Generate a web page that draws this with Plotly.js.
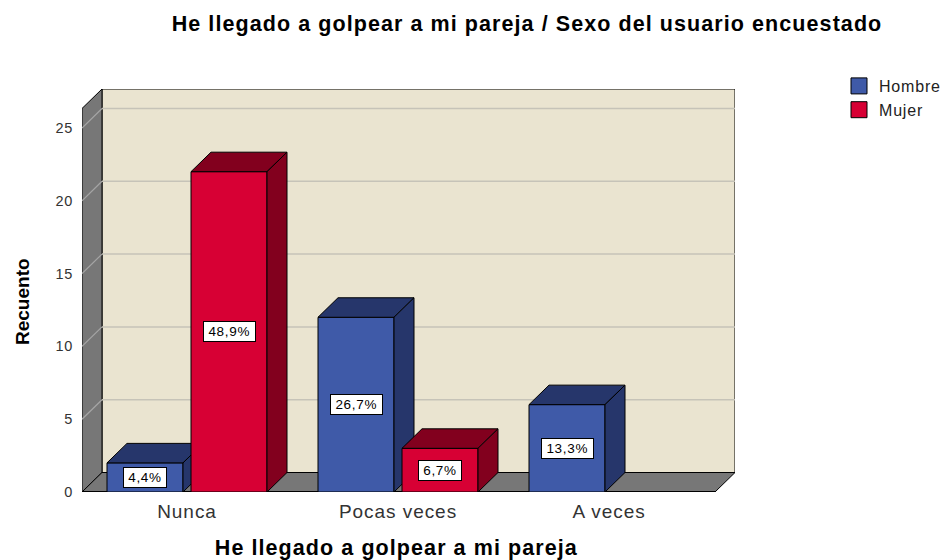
<!DOCTYPE html>
<html><head><meta charset="utf-8">
<script src="https://cdn.plot.ly/plotly-3.0.1.min.js"></script>
<style>
html,body{margin:0;padding:0;background:#fff;}
#chart{width:945px;height:560px;}
.main-svg text{letter-spacing:0.05em;}
.main-svg g.annotation[data-index="6"] text{letter-spacing:0;}
</style></head><body><div id="chart"></div>
<script>
// ---------- data ----------
const categories = ['Nunca', 'Pocas veces', 'A veces'];
const seriesNames = ['Hombre', 'Mujer'];
const hombre = [2, 12, 6];
const mujer = [22, 3, 0];
const yTickVals = [0, 5, 10, 15, 20, 25];
const yTickText = ['0', '5', '10', '15', '20', '25'];
const chartTitle = 'He llegado a golpear a mi pareja / Sexo del usuario encuestado';
const xTitle = 'He llegado a golpear a mi pareja';
const yTitle = 'Recuento';

// ---------- geometry / style ----------
const W = 945, H = 560;
const plotL = 82, plotR = 735, plotT = 89, plotB = 492;
const pxPerCat = 211, pxPerUnit = 14.56, firstCatPx = 187;
const depthPx = 20, depthPy = 19.5;
const barWpx = 76, gapPx = 8;
const FONT = 'Liberation Sans, Arial, sans-serif';
const frontCol = ['#3F5AA8', '#D70034'];
const darkCol = ['#26366B', '#82001E'];
const wallCol = '#777777';
const backCol = '#EAE4D0';

const xL = (plotL - firstCatPx) / pxPerCat;
const xR = xL + (plotR - plotL) / pxPerCat;
const yTop = (plotB - plotT) / pxPerUnit;
const dx = depthPx / pxPerCat, dy = depthPy / pxPerUnit;
const bw = barWpx / pxPerCat, gp = gapPx / pxPerCat;
const topF = yTop - dy;

const series = [hombre, mujer];
const total = hombre.reduce((a, b) => a + b, 0) + mujer.reduce((a, b) => a + b, 0);

const traces = [];
// legend entries
seriesNames.forEach((n, s) => {
  traces.push({
    type: 'scatter', mode: 'markers', x: [null], y: [null], name: n, legendgroup: n,
    marker: {symbol: 'square', size: 16, color: frontCol[s], line: {color: '#000', width: 1}},
    hoverinfo: 'skip', cliponaxis: false
  });
});

const annotations = [];
categories.forEach((c, i) => {
  series.forEach((vals, s) => {
    const v = vals[i];
    if (!v) return;
    const x0 = s === 0 ? i - gp / 2 - bw : i + gp / 2;
    const x1 = x0 + bw;
    const common = {type: 'scatter', mode: 'lines', fill: 'toself', showlegend: false,
      legendgroup: seriesNames[s], hoverinfo: 'skip', line: {color: '#000', width: 1}};
    traces.push(Object.assign({}, common, {
      x: [x0, x1, x1, x0, x0], y: [0, 0, v, v, 0], fillcolor: frontCol[s]}));
    traces.push(Object.assign({}, common, {
      x: [x0, x1, x1 + dx, x0 + dx, x0], y: [v, v, v + dy, v + dy, v], fillcolor: darkCol[s]}));
    traces.push(Object.assign({}, common, {
      x: [x1, x1 + dx, x1 + dx, x1, x1], y: [0, dy, v + dy, v, 0], fillcolor: darkCol[s]}));
    const txt = (v / total * 100).toFixed(1).replace('.', ',') + '%';
    annotations.push({
      x: (x0 + x1) / 2, y: v / 2, xref: 'x', yref: 'y', text: txt, showarrow: false,
      font: {family: FONT, size: 13.5, color: '#000'}, bgcolor: '#fff', bordercolor: '#000',
      borderwidth: 1, borderpad: 2, width: txt.length * 8.5 + 4, height: 15
    });
  });
});

annotations.push({
  xref: 'paper', yref: 'paper', x: (397 - plotL) / (plotR - plotL), y: (plotB - 548) / (plotB - plotT),
  xanchor: 'center', yanchor: 'middle', text: xTitle, showarrow: false,
  font: {family: FONT, size: 21.5, weight: 'bold', color: '#000'}
});
annotations.push({
  xref: 'paper', yref: 'paper', x: (22 - plotL) / (plotR - plotL), y: (plotB - 302) / (plotB - plotT),
  xanchor: 'center', yanchor: 'middle', text: yTitle, showarrow: false, textangle: -90,
  font: {family: FONT, size: 19, weight: 'bold', color: '#000'}
});

const shapes = [];
shapes.push({type: 'rect', layer: 'below', xref: 'x', yref: 'y', x0: xL + dx, x1: xR, y0: dy, y1: yTop,
  fillcolor: backCol, line: {color: '#000', width: 1}});
shapes.push({type: 'path', layer: 'below', xref: 'x', yref: 'y',
  path: `M${xL},0 L${xL},${topF} L${xL + dx},${yTop} L${xL + dx},${dy} Z`,
  fillcolor: wallCol, line: {color: '#000', width: 1}});
shapes.push({type: 'path', layer: 'below', xref: 'x', yref: 'y',
  path: `M${xL},0 L${xR - dx},0 L${xR},${dy} L${xL + dx},${dy} Z`,
  fillcolor: wallCol, line: {color: '#000', width: 1}});
yTickVals.filter(v => v > 0).forEach(v => {
  shapes.push({type: 'line', layer: 'below', xref: 'x', yref: 'y', x0: xL + dx, x1: xR, y0: v + dy, y1: v + dy,
    line: {color: '#C6C3B8', width: 1.5}});
  shapes.push({type: 'line', layer: 'below', xref: 'x', yref: 'y', x0: xL, x1: xL + dx, y0: v, y1: v + dy,
    line: {color: '#A5A5A5', width: 1.2}});
});
shapes.push({type: 'line', layer: 'below', xref: 'x', yref: 'y', x0: xL, x1: xR - dx, y0: 0, y1: 0,
  line: {color: '#000', width: 2}});

const layout = {
  width: W, height: H,
  margin: {l: plotL, r: W - plotR, t: plotT, b: H - plotB, pad: 0},
  paper_bgcolor: '#fff', plot_bgcolor: '#fff',
  hovermode: false,
  title: {text: chartTitle, x: 527 / W, xanchor: 'center', y: 1 - 23 / H, yanchor: 'middle',
    yref: 'container', xref: 'container', font: {family: FONT, size: 21.5, weight: 'bold', color: '#000'}},
  xaxis: {range: [xL, xR], tickvals: categories.map((c, i) => i), ticktext: categories,
    showgrid: false, zeroline: false, showline: false, ticks: '', ticklabelstandoff: 6,
    tickfont: {family: FONT, size: 19, color: '#333'}, fixedrange: true},
  yaxis: {range: [0, yTop], tickvals: yTickVals, ticktext: yTickText,
    showgrid: false, zeroline: false, showline: false, ticks: '', ticklabelstandoff: 8,
    tickfont: {family: FONT, size: 14.5, color: '#333'}, fixedrange: true},
  showlegend: true,
  legend: {xref: 'container', yref: 'container', x: 839 / W, y: 1 - 69 / H, xanchor: 'left', yanchor: 'top',
    font: {family: FONT, size: 16, color: '#222'}, bgcolor: 'rgba(0,0,0,0)', itemwidth: 30,
    tracegroupgap: 0, traceorder: 'normal'},
  shapes: shapes,
  annotations: annotations
};

Plotly.newPlot('chart', traces, layout, {displayModeBar: false, staticPlot: true});
</script></body></html>
